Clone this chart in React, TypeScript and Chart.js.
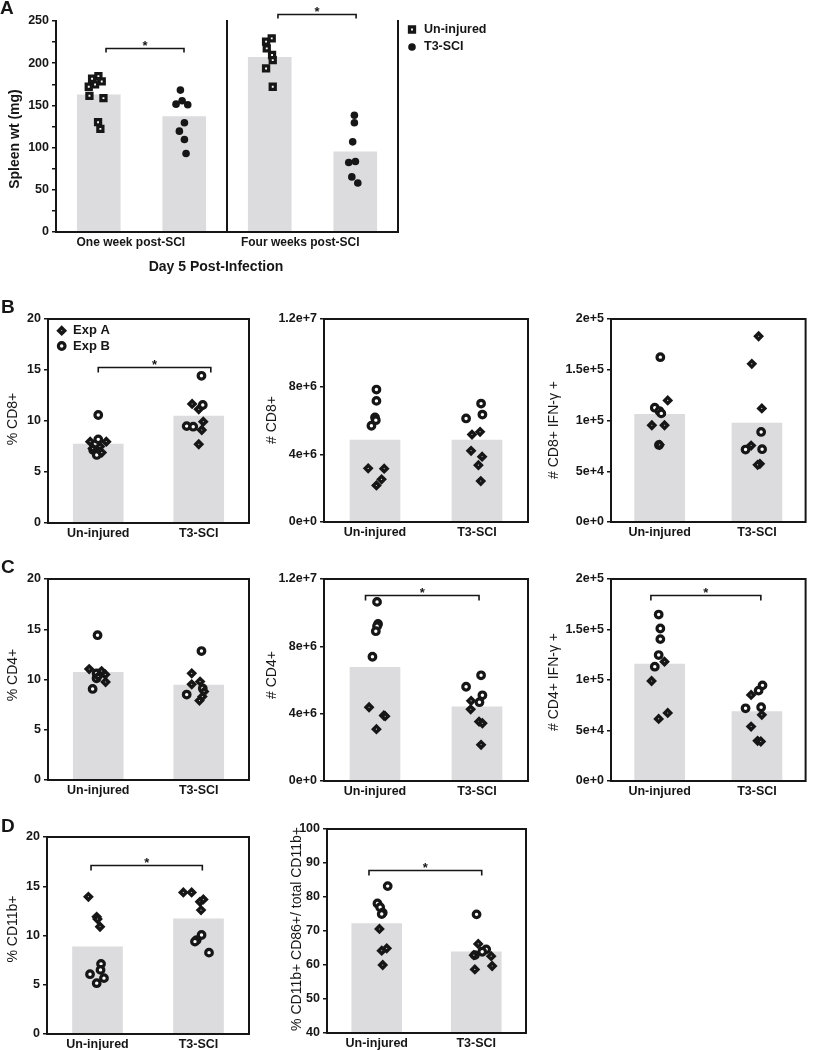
import React, { useEffect, useRef } from 'react';
import { Chart, registerables } from 'chart.js';

Chart.register(...registerables);

const FONT = '"Liberation Sans", Arial, Helvetica, sans-serif';
const INK = '#161616';
const BAR_FILL = '#dcdcde';

// ---------------- Panel A : spleen weight ----------------
const A_GROUP_LABELS = ['One week post-SCI', 'Four weeks post-SCI'];
const A_LEGEND_LABELS = ['Un-injured', 'T3-SCI'];
const A_BAR_X = [0, 1, 2, 3];
const A_BAR_MEANS = [162.6, 136.9, 206.9, 94.9];
const A_UNINJURED: [number, number][] = [
  [-0.004, 184.7], [-0.078, 181.6], [0.035, 178.4], [-0.043, 174.8], [-0.117, 172.1],
  [-0.109, 161.4], [0.055, 158.6], [-0.008, 130.1], [0.019, 122.2],
  [2.023, 229.4], [1.957, 225.5], [1.965, 217.6], [2.027, 209.7], [2.035, 203.7], [1.957, 193.8], [2.035, 172.1],
];
const A_SCI: [number, number][] = [
  [0.955, 168.1], [0.904, 151.5], [0.975, 155.5], [1.041, 150.7], [1.002, 129.4], [0.943, 119.5], [1.002, 109.6], [1.021, 93.0],
  [2.99, 138.4], [2.99, 129.4], [2.97, 106.8], [2.924, 82.3], [3.002, 83.5], [2.96, 65.3], [3.03, 58.1],
];
const A_Y_TICKS = [0, 25, 50, 75, 100, 125, 150, 175, 200, 225, 250];
const A_Y_LABELS = ['0', '', '50', '', '100', '', '150', '', '200', '', '250'];

// ---------------- Panels B-D ----------------
const CATEGORIES = ['Un-injured', 'T3-SCI'];
const CAT_X = [0, 1];
const EXP_LABELS = ['Exp A', 'Exp B'];

const PCT_TICKS = [0, 5, 10, 15, 20];
const PCT_LABELS = ['0', '5', '10', '15', '20'];
const NUM_TICKS = [0, 4e6, 8e6, 1.2e7];
const NUM_LABELS = ['0e+0', '4e+6', '8e+6', '1.2e+7'];
const IFN_TICKS = [0, 5e4, 1e5, 1.5e5, 2e5];
const IFN_LABELS = ['0e+0', '5e+4', '1e+5', '1.5e+5', '2e+5'];
const CD86_TICKS = [40, 50, 60, 70, 80, 90, 100];
const CD86_LABELS = ['40', '50', '60', '70', '80', '90', '100'];

// B: % CD8+
const CD8_PCT_MEANS = [7.74, 10.49];
const CD8_PCT_EXPA: [number, number][] = [
  [-0.08, 7.97], [0.08, 7.97], [-0.056, 7.31], [0.035, 6.9], [0.017, 7.5],
  [0.934, 11.67], [1.0, 11.15], [1.045, 9.93], [1.03, 9.12], [1.0, 7.72],
];
const CD8_PCT_EXPB: [number, number][] = [
  [0.0, 10.59], [0.0, 8.2], [-0.05, 7.16], [-0.015, 6.67],
  [1.027, 14.43], [1.04, 11.57], [0.88, 9.5], [0.945, 9.44],
];
// B: # CD8+
const CD8_NUM_MEANS = [4.84e6, 4.84e6];
const CD8_NUM_EXPA: [number, number][] = [
  [-0.067, 3.17e6], [0.09, 3.15e6], [0.064, 2.52e6], [0.014, 2.16e6],
  [0.951, 5.17e6], [1.03, 5.33e6], [0.942, 4.21e6], [1.05, 3.86e6], [1.014, 3.36e6], [1.037, 2.42e6],
];
const CD8_NUM_EXPB: [number, number][] = [
  [0.014, 7.83e6], [0.014, 7.16e6], [0.0, 6.18e6], [0.008, 6.02e6], [-0.035, 5.69e6],
  [1.04, 7.0e6], [1.053, 6.35e6], [0.893, 6.12e6],
];
// B: # CD8+ IFN-g+
const CD8_IFN_MEANS = [1.06e5, 9.75e4];
const CD8_IFN_EXPA: [number, number][] = [
  [0.083, 1.198e5], [-0.08, 9.53e4], [0.05, 9.53e4], [0.0, 7.6e4],
  [1.017, 1.83e5], [0.947, 1.558e5], [1.05, 1.119e5], [0.94, 7.53e4], [1.03, 5.73e4], [1.007, 5.63e4],
];
const CD8_IFN_EXPB: [number, number][] = [
  [0.007, 1.624e5], [-0.05, 1.126e5], [-0.003, 1.093e5], [0.017, 1.07e5], [-0.007, 7.59e4],
  [1.043, 8.87e4], [0.883, 7.14e4], [1.053, 7.17e4],
];
// C: % CD4+
const CD4_PCT_MEANS = [10.71, 9.45];
const CD4_PCT_EXPA: [number, number][] = [
  [-0.09, 11.04], [0.033, 10.84], [0.07, 10.5], [0.073, 9.75], [0.0, 10.3],
  [0.93, 10.61], [1.013, 9.79], [0.93, 9.52], [1.036, 8.3], [1.007, 7.9], [1.053, 8.8],
];
const CD4_PCT_EXPB: [number, number][] = [
  [-0.007, 14.41], [-0.017, 10.61], [-0.056, 9.06], [-0.017, 10.12],
  [1.027, 12.83], [0.88, 8.5], [1.04, 9.12],
];
// C: # CD4+
const CD4_NUM_MEANS = [6.75e6, 4.4e6];
const CD4_NUM_EXPA: [number, number][] = [
  [-0.058, 4.38e6], [0.087, 3.89e6], [0.1, 3.85e6], [0.014, 3.08e6],
  [0.942, 4.76e6], [0.938, 4.26e6], [1.02, 3.53e6], [1.053, 3.43e6], [1.04, 2.15e6],
];
const CD4_NUM_EXPB: [number, number][] = [
  [0.02, 10.64e6], [0.03, 9.33e6], [0.02, 9.2e6], [0.008, 8.9e6], [-0.025, 7.38e6],
  [1.04, 6.28e6], [0.893, 5.6e6], [1.053, 5.09e6], [1.024, 4.68e6],
];
// C: # CD4+ IFN-g+
const CD4_IFN_MEANS = [1.158e5, 6.88e4];
const CD4_IFN_EXPA: [number, number][] = [
  [0.05, 1.181e5], [-0.083, 9.9e4], [0.083, 6.74e4], [-0.01, 6.15e4],
  [0.94, 8.52e4], [1.05, 6.55e4], [0.94, 5.39e4], [1.007, 3.98e4], [1.04, 3.91e4],
];
const CD4_IFN_EXPB: [number, number][] = [
  [-0.01, 1.648e5], [0.007, 1.51e5], [0.007, 1.405e5], [-0.01, 1.247e5], [-0.05, 1.132e5],
  [1.057, 9.47e4], [0.883, 7.2e4], [1.043, 7.3e4], [1.017, 8.95e4],
];
// D: % CD11b+
const CD11B_MEANS = [8.84, 11.7];
const CD11B_EXPA: [number, number][] = [
  [-0.09, 13.93], [-0.008, 11.9], [0.0, 11.67], [0.025, 10.89],
  [0.85, 14.37], [0.932, 14.37], [1.015, 13.42], [1.048, 13.66], [1.025, 12.58],
];
const CD11B_EXPB: [number, number][] = [
  [0.035, 7.12], [0.03, 6.51], [-0.074, 6.07], [0.064, 5.67], [-0.008, 5.16],
  [1.03, 10.05], [0.982, 9.54], [0.965, 9.38], [1.104, 8.26],
];
// D: % CD11b+ CD86+ / total CD11b+
const CD86_MEANS = [72.2, 63.9];
const CD86_EXPA: [number, number][] = [
  [0.027, 70.6], [0.05, 64.2], [0.1, 64.9], [0.06, 60.0],
  [1.02, 66.2], [0.976, 62.9], [1.15, 62.6], [1.16, 59.7], [0.986, 58.7],
];
const CD86_EXPB: [number, number][] = [
  [0.11, 83.2], [0.007, 78.1], [0.034, 77.0], [0.06, 75.4], [0.05, 75.0],
  [1.003, 74.9], [1.1, 64.6], [0.986, 62.9], [1.06, 63.9],
];

// ---------------- styles ----------------
type MarkerKind = 'diamond' | 'ring' | 'square' | 'dot';

function markerStyle(kind: MarkerKind) {
  switch (kind) {
    case 'diamond':
      return { pointStyle: 'rectRot', pointRadius: 3.0, pointBorderWidth: 3.4, pointBackgroundColor: '#ffffff', pointBorderColor: INK };
    case 'ring':
      return { pointStyle: 'circle', pointRadius: 3.3, pointBorderWidth: 3.2, pointBackgroundColor: '#ffffff', pointBorderColor: INK };
    case 'square':
      return { pointStyle: 'rect', pointRadius: 3.6, pointBorderWidth: 3.2, pointBackgroundColor: '#ffffff', pointBorderColor: INK };
    default:
      return { pointStyle: 'circle', pointRadius: 3.8, pointBorderWidth: 0, pointBackgroundColor: INK, pointBorderColor: INK };
  }
}

function drawMarker(ctx: CanvasRenderingContext2D, kind: MarkerKind, x: number, y: number) {
  ctx.save();
  ctx.strokeStyle = INK;
  ctx.fillStyle = '#ffffff';
  ctx.beginPath();
  if (kind === 'diamond') {
    const r = 3.0;
    ctx.lineWidth = 3.4;
    ctx.moveTo(x, y - r); ctx.lineTo(x + r, y); ctx.lineTo(x, y + r); ctx.lineTo(x - r, y); ctx.closePath();
    ctx.fill(); ctx.stroke();
  } else if (kind === 'ring') {
    ctx.lineWidth = 3.2;
    ctx.arc(x, y, 3.3, 0, Math.PI * 2); ctx.fill(); ctx.stroke();
  } else if (kind === 'square') {
    const h = 2.55;
    ctx.lineWidth = 3.2;
    ctx.rect(x - h, y - h, 2 * h, 2 * h); ctx.fill(); ctx.stroke();
  } else {
    ctx.fillStyle = INK; ctx.arc(x, y, 3.8, 0, Math.PI * 2); ctx.fill();
  }
  ctx.restore();
}

const overlayPlugin = {
  id: 'overlay',
  afterDraw(chart: any, _args: any, o: any) {
    const { ctx, chartArea: ca, scales } = chart;
    const sx = scales.x;
    const sy = scales.y;
    const ox = o.origin[0];
    const oy = o.origin[1];
    ctx.save();
    ctx.strokeStyle = INK;
    ctx.fillStyle = INK;
    ctx.lineWidth = 2;
    ctx.lineCap = 'square';
    ctx.beginPath();
    if (o.frameTop) {
      ctx.rect(ca.left, ca.top, ca.right - ca.left, ca.bottom - ca.top);
    } else {
      ctx.moveTo(ca.left, ca.top);
      ctx.lineTo(ca.left, ca.bottom);
      ctx.lineTo(ca.right, ca.bottom);
      ctx.lineTo(ca.right, ca.top);
    }
    ctx.stroke();
    if (o.divider != null) {
      const x = Math.round(sx.getPixelForValue(o.divider));
      ctx.beginPath();
      ctx.moveTo(x, ca.top);
      ctx.lineTo(x, ca.bottom);
      ctx.stroke();
    }
    // significance brackets
    ctx.lineCap = 'butt';
    ctx.lineWidth = 1.6;
    for (const b of o.brackets) {
      const x1 = sx.getPixelForValue(b.x1);
      const x2 = sx.getPixelForValue(b.x2);
      const y = Math.round(sy.getPixelForValue(b.y)) + 0.5;
      ctx.beginPath();
      ctx.moveTo(x1, y + o.drop);
      ctx.lineTo(x1, y);
      ctx.lineTo(x2, y);
      ctx.lineTo(x2, y + o.drop);
      ctx.stroke();
      ctx.font = `bold 13px ${FONT}`;
      ctx.textAlign = 'center';
      ctx.textBaseline = 'alphabetic';
      ctx.fillText('*', (x1 + x2) / 2, y + 1.5);
    }
    // y title
    if (o.yTitle) {
      ctx.save();
      ctx.translate(o.yTitle.x - ox, o.yTitle.y - oy);
      ctx.rotate(-Math.PI / 2);
      ctx.font = o.yTitle.font;
      ctx.textAlign = 'center';
      ctx.textBaseline = 'middle';
      ctx.fillText(o.yTitle.text, 0, 0);
      ctx.restore();
    }
    // x title
    if (o.xTitle) {
      ctx.font = o.xTitle.font;
      ctx.textAlign = 'center';
      ctx.textBaseline = 'middle';
      ctx.fillText(o.xTitle.text, o.xTitle.x - ox, o.xTitle.y - oy);
    }
    // panel letter
    if (o.letter) {
      ctx.font = `bold 19px ${FONT}`;
      ctx.textAlign = 'left';
      ctx.textBaseline = 'middle';
      ctx.fillText(o.letter.text, o.letter.x - ox, o.letter.y - oy);
    }
    // legend
    if (o.legend) {
      const L = o.legend;
      L.items.forEach((it: any, i: number) => {
        const y = L.y + i * L.dy - oy;
        drawMarker(ctx, it.kind, L.x - ox, y);
        ctx.fillStyle = INK;
        ctx.font = L.font;
        ctx.textAlign = 'left';
        ctx.textBaseline = 'middle';
        ctx.fillText(it.label, L.textX - ox, y);
      });
    }
    ctx.restore();
  },
};

type Spec = {
  key: string;
  box: [number, number, number, number]; // canvas left, top, width, height
  plot: [number, number, number, number]; // plot left, top, right, bottom
  xMin: number;
  xMax: number;
  xTickPos: number[];
  xTickLabels: string[];
  xFont: number;
  barX: number[];
  means: number[];
  barThickness: number;
  series: { data: [number, number][]; kind: MarkerKind }[];
  yMin: number;
  yMax: number;
  yTicks: number[];
  yLabels: string[];
  yTitle: { text: string; x: number; y: number; font: string };
  xTitle?: { text: string; x: number; y: number; font: string };
  frameTop: boolean;
  divider?: number;
  brackets: { x1: number; x2: number; y: number }[];
  drop: number;
  letter?: { text: string; x: number; y: number };
  legend?: any;
};

const TITLE_FONT = `14px ${FONT}`;

function smallPanel(
  key: string,
  box: [number, number, number, number],
  plot: [number, number, number, number],
  means: number[],
  expA: [number, number][],
  expB: [number, number][],
  yMin: number,
  yMax: number,
  yTicks: number[],
  yLabels: string[],
  yTitle: { text: string; x: number; y: number },
  brackets: { x1: number; x2: number; y: number }[],
  extra: Partial<Spec> = {}
): Spec {
  return {
    key, box, plot,
    xMin: -0.5, xMax: 1.5, xTickPos: CAT_X, xTickLabels: CATEGORIES, xFont: 12.5,
    barX: CAT_X, means, barThickness: 50,
    series: [{ data: expA, kind: 'diamond' }, { data: expB, kind: 'ring' }],
    yMin, yMax, yTicks, yLabels,
    yTitle: { ...yTitle, font: TITLE_FONT },
    frameTop: true, brackets, drop: 5,
    ...extra,
  };
}

const SPECS: Spec[] = [
  {
    key: 'A',
    box: [0, 0, 540, 282],
    plot: [56, 21, 398, 232],
    xMin: -0.5, xMax: 3.5,
    xTickPos: [0.375, 2.357],
    xTickLabels: A_GROUP_LABELS,
    xFont: 12,
    barX: A_BAR_X, means: A_BAR_MEANS, barThickness: 43,
    series: [{ data: A_UNINJURED, kind: 'square' }, { data: A_SCI, kind: 'dot' }],
    yMin: 0, yMax: 250, yTicks: A_Y_TICKS, yLabels: A_Y_LABELS,
    yTitle: { text: 'Spleen wt (mg)', x: 15, y: 139, font: `bold 14px ${FONT}` },
    xTitle: { text: 'Day 5 Post-Infection', x: 216, y: 267, font: `bold 14px ${FONT}` },
    frameTop: false,
    divider: 1.5,
    brackets: [{ x1: 0.085, x2: 0.997, y: 218 }, { x1: 2.096, x2: 3.01, y: 258.3 }],
    drop: 4,
    letter: { text: 'A', x: 0, y: 9 },
    legend: {
      x: 412, y: 29.5, dy: 17.5, textX: 424, font: `bold 12.5px ${FONT}`,
      items: [{ label: A_LEGEND_LABELS[0], kind: 'square' }, { label: A_LEGEND_LABELS[1], kind: 'dot' }],
    },
  },
  smallPanel('B1', [0, 290, 270, 255], [48, 319, 249, 523], CD8_PCT_MEANS, CD8_PCT_EXPA, CD8_PCT_EXPB,
    0, 20, PCT_TICKS, PCT_LABELS, { text: '% CD8+', x: 13, y: 419 }, [{ x1: 0.0, x2: 1.12, y: 15.26 }],
    {
      letter: { text: 'B', x: 1, y: 307.5 },
      legend: {
        x: 61.7, y: 330.7, dy: 15.3, textX: 73, font: `bold 13px ${FONT}`,
        items: [{ label: EXP_LABELS[0], kind: 'diamond' }, { label: EXP_LABELS[1], kind: 'ring' }],
      },
    }),
  smallPanel('B2', [258, 290, 282, 255], [324, 319, 528, 522], CD8_NUM_MEANS, CD8_NUM_EXPA, CD8_NUM_EXPB,
    0, 1.2e7, NUM_TICKS, NUM_LABELS, { text: '# CD8+', x: 272, y: 420 }, []),
  smallPanel('B3', [535, 290, 278, 255], [611, 319, 811, 522], CD8_IFN_MEANS, CD8_IFN_EXPA, CD8_IFN_EXPB,
    0, 2e5, IFN_TICKS, IFN_LABELS, { text: '# CD8+ IFN-γ +', x: 554, y: 430 }, []),
  smallPanel('C1', [0, 550, 270, 255], [48, 579, 249, 780], CD4_PCT_MEANS, CD4_PCT_EXPA, CD4_PCT_EXPB,
    0, 20, PCT_TICKS, PCT_LABELS, { text: '% CD4+', x: 13, y: 675 }, [],
    { letter: { text: 'C', x: 1, y: 567.5 } }),
  smallPanel('C2', [258, 550, 282, 255], [324, 579, 528, 781], CD4_NUM_MEANS, CD4_NUM_EXPA, CD4_NUM_EXPB,
    0, 1.2e7, NUM_TICKS, NUM_LABELS, { text: '# CD4+', x: 272, y: 675 }, [{ x1: -0.093, x2: 1.02, y: 11.03e6 }]),
  smallPanel('C3', [535, 550, 278, 255], [611, 579, 811, 781], CD4_IFN_MEANS, CD4_IFN_EXPA, CD4_IFN_EXPB,
    0, 2e5, IFN_TICKS, IFN_LABELS, { text: '# CD4+ IFN-γ +', x: 554, y: 682 }, [{ x1: -0.09, x2: 1.04, y: 1.839e5 }]),
  smallPanel('D1', [0, 810, 270, 240], [47, 837, 249, 1034], CD11B_MEANS, CD11B_EXPA, CD11B_EXPB,
    0, 20, PCT_TICKS, PCT_LABELS, { text: '% CD11b+', x: 13, y: 929 }, [{ x1: -0.064, x2: 1.038, y: 17.13 }],
    { letter: { text: 'D', x: 1, y: 827 } }),
  smallPanel('D2', [258, 810, 282, 240], [327, 829, 526, 1033], CD86_MEANS, CD86_EXPA, CD86_EXPB,
    40, 100, CD86_TICKS, CD86_LABELS, { text: '% CD11b+ CD86+/ total CD11b+', x: 297, y: 929 }, [{ x1: -0.078, x2: 1.055, y: 87.9 }]),
];

function PanelChart({ spec }: { spec: Spec }) {
  const ref = useRef<HTMLCanvasElement | null>(null);
  useEffect(() => {
    if (!ref.current) return;
    const [cl, ct, cw, ch] = spec.box;
    const [pl, pt, pr, pb] = spec.plot;
    const yW = pl - cl;
    const padTop = pt - ct;
    const padRight = cl + cw - pr;
    const xH = ct + ch - pb;
    const tickFont = { family: FONT, size: 12.5, weight: 'bold' as const };

    const datasets: any[] = spec.series.map((s) => ({
      type: 'scatter',
      data: s.data.map(([x, y]) => ({ x, y })),
      ...markerStyle(s.kind),
      showLine: false,
      order: 1,
    }));
    datasets.push({
      type: 'bar',
      data: spec.barX.map((x, i) => ({ x, y: spec.means[i] })),
      backgroundColor: BAR_FILL,
      borderWidth: 0,
      barThickness: spec.barThickness,
      base: spec.yMin,
      order: 2,
    });

    const chart = new Chart(ref.current, {
      type: 'scatter',
      data: { datasets },
      options: {
        responsive: false,
        animation: false,
        devicePixelRatio: 1,
        events: [],
        layout: { padding: { left: 0, top: padTop, right: padRight, bottom: 0 } },
        plugins: {
          legend: { display: false },
          tooltip: { enabled: false },
          overlay: {
            origin: [cl, ct],
            frameTop: spec.frameTop,
            divider: spec.divider,
            brackets: spec.brackets,
            drop: spec.drop,
            yTitle: spec.yTitle,
            xTitle: spec.xTitle,
            letter: spec.letter,
            legend: spec.legend,
          },
        } as any,
        scales: {
          x: {
            type: 'linear',
            min: spec.xMin,
            max: spec.xMax,
            offset: false,
            grid: { display: false, drawTicks: false, tickLength: 0 },
            border: { display: false },
            afterBuildTicks: (s: any) => {
              s.ticks = spec.xTickPos.map((v) => ({ value: v }));
            },
            ticks: {
              callback: (_v: any, i: number) => spec.xTickLabels[i],
              font: { ...tickFont, size: spec.xFont },
              color: INK,
              padding: 3,
              maxRotation: 0,
              autoSkip: false,
            },
            afterFit: (s: any) => {
              s.height = xH;
            },
          },
          y: {
            type: 'linear',
            min: spec.yMin,
            max: spec.yMax,
            beginAtZero: false,
            grid: {
              display: true,
              drawOnChartArea: false,
              drawTicks: true,
              tickLength: 4,
              color: INK,
              lineWidth: 1.5,
            },
            border: { display: false },
            afterBuildTicks: (s: any) => {
              s.ticks = spec.yTicks.map((v) => ({ value: v }));
            },
            ticks: {
              callback: (_v: any, i: number) => spec.yLabels[i],
              font: tickFont,
              color: INK,
              padding: 3,
              autoSkip: false,
            },
            afterFit: (s: any) => {
              s.width = yW;
            },
          },
        },
      } as any,
      plugins: [overlayPlugin as any],
    });
    return () => chart.destroy();
  }, [spec]);

  const [cl, ct, cw, ch] = spec.box;
  return (
    <canvas
      ref={ref}
      width={cw}
      height={ch}
      style={{ position: 'absolute', left: cl, top: ct, width: cw, height: ch }}
    />
  );
}

export default function App() {
  return (
    <div
      style={{
        position: 'absolute',
        left: 0,
        top: 0,
        width: 813,
        height: 1050,
        background: '#ffffff',
        overflow: 'hidden',
      }}
    >
      {SPECS.map((s) => (
        <PanelChart key={s.key} spec={s} />
      ))}
    </div>
  );
}
